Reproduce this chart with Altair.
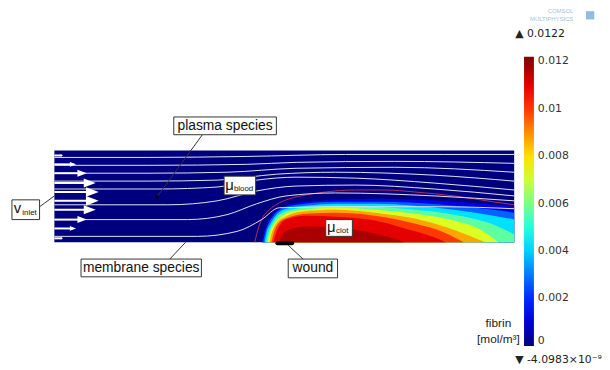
import altair as alt
import pandas as pd

# ---------------- data (lengths in mm, concentration in mol/m^3) ----------------
channel_length = 4.66
channel_height = 0.93

# colour map (COMSOL "Rainbow"/jet) stops
cmap_values = [0.0, 0.001525, 0.004575, 0.007625, 0.010675, 0.0122]
cmap_colors = ["#00007f", "#0000ff", "#00ffff", "#ffff00", "#ff0000", "#7f0000"]
colorbar_ticks = [0, 0.002, 0.004, 0.006, 0.008, 0.010, 0.012]
fibrin_max = "0.0122"
fibrin_min = "-4.0983×10⁻⁹"

# fibrin iso-levels and their contours (height above wall vs. x)
levels = [0.0008, 0.002, 0.0035, 0.005, 0.0065, 0.008, 0.0095, 0.0108, 0.0117]
level_fill = [0.0013, 0.0027, 0.0042, 0.0057, 0.0072, 0.0087, 0.0100, 0.0110, 0.0117]
level_x = [
    [2.10, 2.12, 2.15, 2.20, 2.27, 2.37, 2.55, 2.85, 3.25, 3.65, 4.05, 4.45, 4.66],
    [2.115, 2.14, 2.17, 2.22, 2.30, 2.45, 2.85, 3.25, 3.65, 4.05, 4.45, 4.66],
    [2.13, 2.15, 2.19, 2.25, 2.35, 2.55, 2.85, 3.25, 3.65, 4.05, 4.45, 4.66],
    [2.145, 2.17, 2.21, 2.28, 2.40, 2.65, 2.85, 3.25, 3.65, 4.05, 4.45, 4.66],
    [2.16, 2.185, 2.23, 2.31, 2.45, 2.85, 3.25, 3.65, 4.05, 4.35, 4.50],
    [2.18, 2.205, 2.25, 2.34, 2.50, 2.85, 3.25, 3.65, 3.95, 4.20, 4.37],
    [2.20, 2.225, 2.27, 2.37, 2.55, 2.85, 3.25, 3.65, 3.95, 4.15],
    [2.22, 2.25, 2.29, 2.37, 2.55, 2.85, 3.25, 3.55, 3.85, 3.97],
    [2.28, 2.31, 2.38, 2.55, 2.85, 3.15, 3.40, 3.55],
]
level_y = [
    [0, 0.09, 0.18, 0.27, 0.34, 0.38, 0.41, 0.43, 0.44, 0.43, 0.41, 0.38, 0.36],
    [0, 0.11, 0.19, 0.27, 0.34, 0.38, 0.41, 0.41, 0.40, 0.37, 0.33, 0.30],
    [0, 0.10, 0.19, 0.28, 0.34, 0.37, 0.39, 0.39, 0.37, 0.33, 0.27, 0.23],
    [0, 0.10, 0.19, 0.28, 0.33, 0.36, 0.37, 0.36, 0.33, 0.28, 0.18, 0.08],
    [0, 0.10, 0.19, 0.27, 0.32, 0.35, 0.33, 0.29, 0.22, 0.11, 0],
    [0, 0.10, 0.19, 0.26, 0.31, 0.33, 0.30, 0.24, 0.16, 0.07, 0],
    [0, 0.10, 0.19, 0.25, 0.29, 0.30, 0.27, 0.19, 0.10, 0],
    [0, 0.10, 0.18, 0.24, 0.27, 0.26, 0.22, 0.14, 0.05, 0],
    [0, 0.08, 0.13, 0.16, 0.15, 0.11, 0.05, 0],
]

# clot boundary contour
clot_x = [2.03, 2.07, 2.11, 2.18, 2.28, 2.38, 2.55, 2.75, 3.05, 3.35, 3.65, 4.05, 4.45, 4.66]
clot_y = [0, 0.15, 0.25, 0.33, 0.40, 0.44, 0.48, 0.51, 0.53, 0.53, 0.51, 0.47, 0.41, 0.38]

# streamlines
stream_x = [
    [0, 0.95, 1.95, 2.95, 3.95, 4.66],
    [0, 0.95, 1.95, 2.45, 3.45, 4.66],
    [0, 0.95, 1.75, 2.45, 3.45, 4.66],
    [0, 0.95, 1.65, 2.25, 2.85, 3.85, 4.66],
    [0, 1.05, 1.65, 2.05, 2.45, 3.05, 3.85, 4.66],
    [0, 1.15, 1.65, 2.05, 2.45, 3.05, 3.85, 4.66],
    [0, 1.35, 1.75, 2.05, 2.35, 2.85, 3.85, 4.66],
    [0, 1.45, 1.85, 2.10, 2.28, 2.95, 3.95, 4.66],
]
stream_y = [
    [0.86, 0.86, 0.87, 0.89, 0.89, 0.89],
    [0.78, 0.78, 0.79, 0.81, 0.82, 0.80],
    [0.70, 0.70, 0.71, 0.75, 0.76, 0.71],
    [0.62, 0.62, 0.63, 0.69, 0.71, 0.68, 0.62],
    [0.54, 0.54, 0.56, 0.63, 0.66, 0.65, 0.60, 0.53],
    [0.38, 0.38, 0.42, 0.52, 0.57, 0.58, 0.54, 0.47],
    [0.23, 0.23, 0.28, 0.39, 0.47, 0.50, 0.47, 0.42],
    [0.06, 0.06, 0.11, 0.23, 0.35, 0.36, 0.36, 0.34],
]

# inlet velocity arrows (normalised speed)
inlet_y = [0.88, 0.79, 0.70, 0.60, 0.51, 0.42, 0.33, 0.23, 0.14, 0.04]
inlet_u = [0.2, 0.49, 0.73, 0.93, 1.0, 1.0, 0.93, 0.73, 0.49, 0.2]
arrow_scale = 0.45

# ---------------- tables ----------------
band_rows = []
for k, (val, xs, ys) in enumerate(zip(level_fill, level_x, level_y)):
    for x, y in zip(xs, ys):
        band_rows.append({"level": k, "x": x, "y": y, "y0": 0.0, "val": val})
bands = pd.DataFrame(band_rows)

streams = pd.DataFrame([
    {"sid": i, "x": x, "y": y}
    for i, (xs, ys) in enumerate(zip(stream_x, stream_y))
    for x, y in zip(xs, ys)
])
clot = pd.DataFrame({"x": clot_x, "y": clot_y})

arrows = pd.DataFrame({"y": inlet_y, "u": inlet_u})
arrows["x0"] = 0.0
arrows["tip"] = arrows["u"] * arrow_scale
arrows["hc"] = arrows["tip"] - 0.065 * arrows["u"]
arrows["hs"] = (13 * arrows["u"]) ** 2

channel = pd.DataFrame({"x": [0.0], "x2": [channel_length], "y": [0.0],
                        "y2": [channel_height], "val": [0.0]})

boxes = pd.DataFrame({
    "x": [1.21, 1.72, -0.43, 0.27, 2.37, 2.75],
    "x2": [2.25, 2.04, -0.15, 1.49, 2.87, 3.02],
    "y": [1.09, 0.48, 0.23, -0.35, -0.36, 0.06],
    "y2": [1.27, 0.67, 0.43, -0.17, -0.17, 0.23],
})
leaders = pd.DataFrame({
    "x": [1.50, -0.15, 1.17, 2.37],
    "y": [1.09, 0.36, -0.17, -0.03],
    "x2": [1.04, 0.0, 1.33, 2.52],
    "y2": [0.46, 0.47, 0.0, -0.17],
})

# ---------------- chart ----------------
XS = alt.Scale(domain=[-0.47, 5.47], nice=False, zero=False)
YS = alt.Scale(domain=[-1.19, 2.35], nice=False, zero=False)


def X(f="x"):
    return alt.X(f"{f}:Q", scale=XS, axis=None)


def Y(f="y"):
    return alt.Y(f"{f}:Q", scale=YS, axis=None)


color_scale = alt.Scale(domain=cmap_values, range=cmap_colors, interpolate="rgb")
legend = alt.Legend(orient="none", legendX=523, legendY=47, direction="vertical",
                    gradientLength=293, gradientThickness=10, values=colorbar_ticks,
                    format=".3~f", title=None, labelFont="DejaVu Sans", labelFontSize=11,
                    labelColor="#333333", labelOffset=4, padding=0,
                    gradientStrokeWidth=0, labelOverlap=False)
COL = alt.Color("val:Q", scale=color_scale, legend=legend)

layers = []
layers.append(alt.Chart(channel).mark_rect().encode(
    x=X(), x2="x2:Q", y=Y(), y2="y2:Q", color=COL))

for k in range(len(levels)):
    layers.append(alt.Chart(bands).transform_filter(alt.datum.level == k)
                  .mark_area(interpolate="monotone").encode(
                      x=X(), y=Y(), y2="y0:Q", color=COL))

layers.append(alt.Chart(clot).mark_line(interpolate="monotone", color="#b03060",
                                        strokeWidth=1).encode(x=X(), y=Y()))
layers.append(alt.Chart(streams).mark_line(interpolate="monotone", color="#e4e4ee",
                                           strokeWidth=1).encode(
    x=X(), y=Y(), detail="sid:N"))

# inlet arrows
layers.append(alt.Chart(arrows).mark_rule(color="white", strokeWidth=2).encode(
    x=X("x0"), x2="hc:Q", y=Y()))
layers.append(alt.Chart(arrows).mark_point(shape="M-1,-0.75L1,0L-1,0.75Z", filled=True,
                                           color="white", opacity=1).encode(
    x=X("hc"), y=Y(), size=alt.Size("hs:Q", scale=None, legend=None)))

# wound
wound = pd.DataFrame({"x": [2.26], "x2": [2.41], "y": [-0.01]})
layers.append(alt.Chart(wound).mark_rule(color="black", strokeWidth=4,
                                         strokeCap="round").encode(
    x=X(), x2="x2:Q", y=Y()))

# leaders and boxes
layers.append(alt.Chart(leaders).mark_rule(color="#333333", strokeWidth=1).encode(
    x=X(), y=Y(), x2="x2:Q", y2="y2:Q"))
dot = pd.DataFrame({"x": [1.04], "y": [0.46]})
layers.append(alt.Chart(dot).mark_point(filled=True, color="black", size=12,
                                        opacity=1).encode(x=X(), y=Y()))
layers.append(alt.Chart(boxes).mark_rect(fill="white", stroke="#333333",
                                         strokeWidth=1).encode(
    x=X(), x2="x2:Q", y=Y(), y2="y2:Q"))


def txt(df, **kw):
    base = dict(font="Liberation Sans", color="#111111", baseline="middle")
    base.update(kw)
    return alt.Chart(df).mark_text(**base).encode(x=X(), y=Y(), text="t:N")


labels_main = pd.DataFrame({"x": [1.73, 0.88, 2.62], "y": [1.18, -0.26, -0.265],
                            "t": ["plasma species", "membrane species", "wound"]})
layers.append(txt(labels_main, fontSize=14, align="center"))
mus = pd.DataFrame({"x": [1.775, -0.375, 2.805], "y": [0.575, 0.35, 0.155],
                    "t": ["μ", "v", "μ"]})
layers.append(txt(mus, fontSize=15, align="center"))
subs = pd.DataFrame({"x": [1.82, -0.325, 2.855], "y": [0.535, 0.30, 0.115],
                     "t": ["blood", "inlet", "clot"]})
layers.append(txt(subs, fontSize=8, align="left"))

# colour bar extras
cb_text = pd.DataFrame({"x": [4.67, 4.67], "y": [2.11, -1.19],
                        "t": ["▲ " + fibrin_max, "▼ " + fibrin_min]})
layers.append(txt(cb_text, font="DejaVu Sans", fontSize=11, align="left",
                  color="#222222"))
cb_title = pd.DataFrame({"x": [4.50, 4.50], "y": [-0.82, -0.98],
                         "t": ["fibrin", "[mol/m³]"]})
layers.append(txt(cb_title, fontSize=12, align="center", color="#222222"))

# logo
logo = pd.DataFrame({"x": [5.13, 5.04], "y": [2.34, 2.26],
                     "t": ["COMSOL", "MULTIPHYSICS"]})
layers.append(txt(logo, fontSize=6, align="center", color="#a0c4e0"))
logo_icon = pd.DataFrame({"x": [5.43], "y": [2.30]})
layers.append(alt.Chart(logo_icon).mark_point(shape="square", filled=True,
                                              color="#8fbce0", size=70,
                                              opacity=1).encode(x=X(), y=Y()))

chart = alt.layer(*layers).properties(
    width=594, height=354,
    background="white",
    autosize=alt.AutoSizeParams(type="none"),
    padding={"left": 0, "top": 0, "right": 8, "bottom": 8},
).configure_view(strokeWidth=0, stroke="transparent")

chart.save("out.html", embed_options={"renderer": "svg", "actions": False})
